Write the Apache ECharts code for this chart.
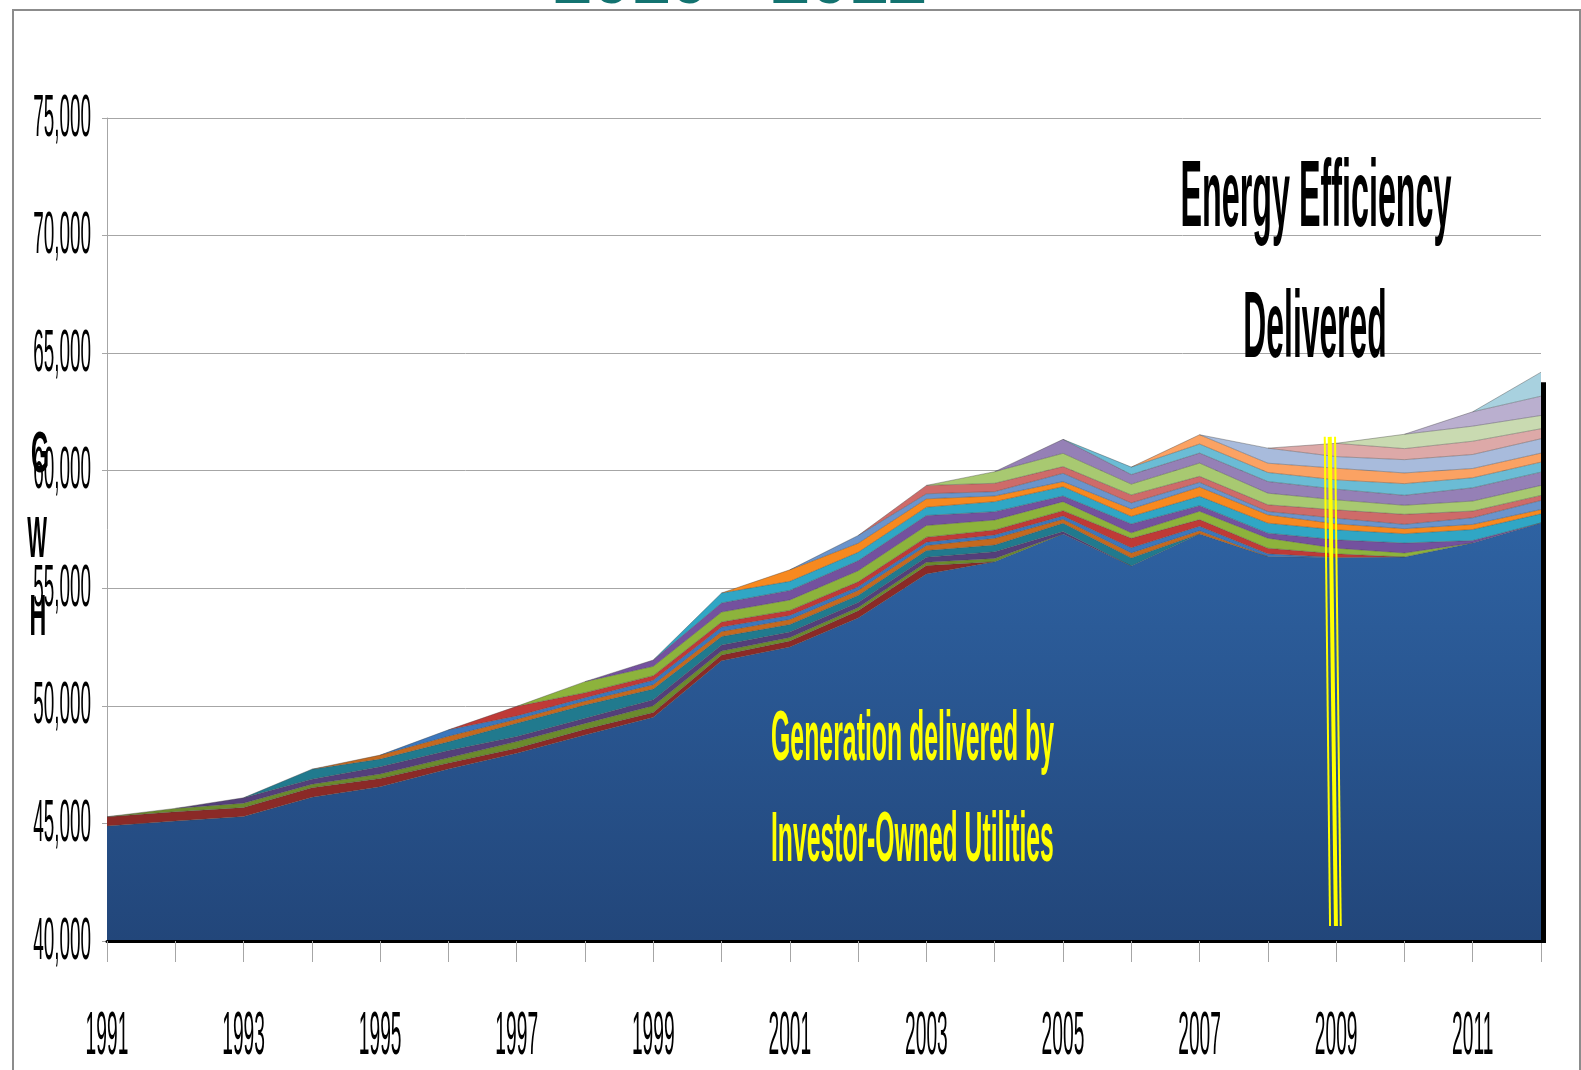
<!DOCTYPE html>
<html>
<head>
<meta charset="utf-8">
<script src="https://cdn.jsdelivr.net/npm/echarts@6/dist/echarts.min.js"></script>
<style>
  html, body { margin: 0; padding: 0; background: #ffffff; }
  #chart { width: 1581px; height: 1070px; }
</style>
</head>
<body>
<div id="chart"></div>
<script>
// Years on the category axis
const years = ['1991','1992','1993','1994','1995','1996','1997','1998','1999','2000','2001',
               '2002','2003','2004','2005','2006','2007','2008','2009','2010','2011','2012'];

// Axis tick labels
const yTicks = [40000, 45000, 50000, 55000, 60000, 65000, 70000, 75000];
const xLabelYears = ['1991','1993','1995','1997','1999','2001','2003','2005','2007','2009','2011'];

// Generation delivered by investor-owned utilities (GWh)
const generation = [44890, 45100, 45290, 46110, 46560, 47320, 47980, 48760, 49520, 51920, 52500,
                    53740, 55610, 56130, 57310, 55950, 57310, 56350, 56310, 56330, 56930, 57780];

// Energy efficiency savings (GWh) by program year, listed from the program's first year on
const ee1991 = [395, 395, 385, 410, 355, 255, 215, 240, 200, 240, 255, 300, 355];
const ee1992 = [145, 185, 145, 185, 215, 285, 255, 285, 170, 150, 140, 140, 140];
const ee1993 = [230, 215, 310, 310, 215, 215, 255, 255, 235, 215, 215, 285, 100];
const ee1994 = [425, 325, 370, 565, 565, 455, 360, 320, 300, 285, 285, 355, 340];
const ee1995 = [170, 240, 170, 170, 185, 215, 215, 215, 215, 285, 170, 215, 140];
const ee1996 = [270, 140, 140, 185, 190, 170, 150, 140, 140, 140, 215, 185, 115];
const ee1997 = [410, 215, 200, 215, 215, 215, 215, 215, 225, 405, 285, 240, 155];
const ee1998 = [470, 395, 425, 445, 470, 495, 425, 385, 235, 355, 425, 240, 170];
const ee1999 = [270, 385, 405, 425, 425, 355, 240, 375, 240, 215, 355, 425, 100];
const ee2000 = [425, 385, 360, 355, 425, 395, 320, 395, 425, 425, 395, 470, 385];
const ee2001 = [490, 385, 355, 240, 215, 320, 395, 355, 255, 215, 215, 185];
const ee2002 = [330, 215, 185, 355, 255, 200, 140, 240, 185, 285, 385];
const ee2003 = [355, 355, 285, 340, 255, 285, 355, 425, 285, 215];
const ee2004 = [495, 565, 460, 565, 495, 425, 385, 425, 425];
const ee2005 = [595, 405, 425, 495, 455, 425, 565, 565];
const ee2006 = [320, 385, 385, 395, 495, 425, 425];
const ee2007 = [395, 395, 495, 455, 395, 385];
const ee2008 = [640, 495, 565, 595, 610];
const ee2009 = [565, 470, 565, 425];
const ee2010 = [610, 640, 565];
const ee2011 = [610, 820];
const ee2012 = [1020];

const programs = [
  ['1991', ee1991, '#8b2a27'], ['1992', ee1992, '#6b8b2d'], ['1993', ee1993, '#543f7a'],
  ['1994', ee1994, '#217a8e'], ['1995', ee1995, '#c4691f'], ['1996', ee1996, '#3b77bd'],
  ['1997', ee1997, '#bf3a37'], ['1998', ee1998, '#8db33c'], ['1999', ee1999, '#74519e'],
  ['2000', ee2000, '#30a6c5'], ['2001', ee2001, '#f7891f'], ['2002', ee2002, '#6a94cc'],
  ['2003', ee2003, '#ce6b69'], ['2004', ee2004, '#a8c971'], ['2005', ee2005, '#9580b6'],
  ['2006', ee2006, '#6bbcd5'], ['2007', ee2007, '#fba263'], ['2008', ee2008, '#a8bbdc'],
  ['2009', ee2009, '#dda9a8'], ['2010', ee2010, '#c9dab1'], ['2011', ee2011, '#baafcf'],
  ['2012', ee2012, '#a8d1df']
];

// Spread a program's values over the full year range: empty before it starts,
// a zero the year before (so the layer ramps in) and a zero after it ends.
function padProgram(startYear, values) {
  const start = years.indexOf(startYear);
  return years.map((y, i) => {
    if (i === start - 1) return 0;
    if (i >= start && i < start + values.length) return values[i - start];
    if (i === start + values.length) return 0;
    return '-';
  });
}

const edge = { width: 0.7, color: 'rgba(60,60,60,0.55)' };

const series = [{
  name: 'Generation delivered by Investor-Owned Utilities',
  type: 'line',
  stack: 'total',
  data: generation,
  symbol: 'none',
  lineStyle: edge,
  areaStyle: {
    opacity: 1,
    color: new echarts.graphic.LinearGradient(0, 0, 0, 1, [
      { offset: 0, color: '#2e62a2' },
      { offset: 1, color: '#22467a' }
    ])
  },
  emphasis: { disabled: true },
  z: 2
}];

programs.forEach(([yr, vals, color]) => {
  series.push({
    name: 'EE ' + yr,
    type: 'line',
    stack: 'total',
    data: padProgram(yr, vals),
    symbol: 'none',
    lineStyle: edge,
    areaStyle: { opacity: 1, color: color },
    emphasis: { disabled: true },
    z: 2
  });
});

const gridLeft = 107, gridRight = 40, gridTop = 118, gridBottom = 129;

const chart = echarts.init(document.getElementById('chart'), null, { renderer: 'canvas' });
chart.setOption({
  animation: false,
  backgroundColor: '#ffffff',
  grid: { left: gridLeft, right: gridRight, top: gridTop, bottom: gridBottom },
  xAxis: {
    type: 'category',
    data: years,
    boundaryGap: false,
    z: 5,
    axisLine: { show: true, lineStyle: { color: '#000000', width: 3 } },
    axisTick: { show: true, interval: 0, length: 21, lineStyle: { color: '#a6a6a6', width: 1 } },
    axisLabel: { show: false },
    splitLine: { show: false }
  },
  yAxis: {
    type: 'value',
    min: 40000,
    max: 75000,
    interval: 5000,
    axisLine: { show: true, lineStyle: { color: '#a6a6a6', width: 1 } },
    axisTick: { show: true, length: 5, lineStyle: { color: '#a6a6a6', width: 1 } },
    axisLabel: { show: false },
    splitLine: { show: true, lineStyle: { color: '#a6a6a6', width: 1 } }
  },
  series: series
});

// Condensed text drawn as scaled graphic text
function label(text, x, y, size, scaleX, opts) {
  opts = opts || {};
  const align = opts.align || 'center';
  return {
    type: 'text', x: x, y: y, scaleX: scaleX, z: 100, silent: true,
    style: {
      text: text,
      font: (opts.weight || 'normal') + ' ' + size + 'px "Liberation Sans", Arial, sans-serif',
      fill: opts.color || '#000000',
      align: align, textAlign: align,
      verticalAlign: 'middle', textVerticalAlign: 'middle'
    }
  };
}

const g = [];

// Outer frame
g.push({ type: 'rect', z: 90, silent: true,
  shape: { x: 13, y: 10, width: 1567, height: 1080 },
  style: { fill: 'none', stroke: '#8c8c8c', lineWidth: 2 } });

// Title line (partly above the page edge)
g.push(label('2010 - 2012', 740, -16, 70, 1, { weight: 'bold', color: '#137370' }));

// Y tick labels
yTicks.forEach(v => {
  const py = chart.convertToPixel({ yAxisIndex: 0 }, v);
  g.push(label(v.toLocaleString('en-US'), gridLeft - 16, py + 1, 60, 0.315, { align: 'right' }));
});

// X tick labels
xLabelYears.forEach(yr => {
  const px = chart.convertToPixel({ xAxisIndex: 0 }, yr);
  g.push(label(yr, px, 1037, 62, 0.31));
});

// Axis unit, stacked letters
g.push(label('G', 40, 456, 58, 0.40, { weight: 'bold' }));
g.push(label('W', 37, 541, 58, 0.36, { weight: 'bold' }));
g.push(label('H', 38, 619, 58, 0.40, { weight: 'bold' }));

// Annotations
g.push(label('Energy Efficiency', 1316, 200, 95, 0.34, { weight: 'bold' }));
g.push(label('Delivered', 1315, 331, 95, 0.335, { weight: 'bold' }));
g.push(label('Generation delivered by', 771, 740, 71, 0.35, { weight: 'bold', color: '#ffff00', align: 'left' }));
g.push(label('Investor-Owned Utilities', 771, 841, 71, 0.348, { weight: 'bold', color: '#ffff00', align: 'left' }));

// Dark edge along the right side of the stacked areas
const lastIdx = years.length - 1;
let topLast = generation[lastIdx];
programs.forEach(([yr, vals]) => {
  const v = padProgram(yr, vals)[lastIdx];
  if (typeof v === 'number') topLast += v;
});
const xLast = chart.convertToPixel({ xAxisIndex: 0 }, years[lastIdx]);
const yTopLast = chart.convertToPixel({ yAxisIndex: 0 }, topLast);
const yBase = chart.convertToPixel({ yAxisIndex: 0 }, 40000);
g.push({ type: 'rect', z: 95, silent: true,
  shape: { x: xLast, y: yTopLast + 10, width: 5, height: yBase + 2 - (yTopLast + 10) },
  style: { fill: '#000000' } });

// Yellow marker lines at 2009
const markerTop = 61440, markerBottom = 40640;
const x2009 = chart.convertToPixel({ xAxisIndex: 0 }, '2009');
const yT = chart.convertToPixel({ yAxisIndex: 0 }, markerTop);
const yB = chart.convertToPixel({ yAxisIndex: 0 }, markerBottom);
[[-11.4, -6.1, 2], [-6.4, -0.2, 4], [-1.1, 4.6, 2]].forEach(([dt, db, w]) => {
  g.push({ type: 'line', z: 96, silent: true,
    shape: { x1: x2009 + dt, y1: yT, x2: x2009 + db, y2: yB },
    style: { stroke: '#ffff00', lineWidth: w } });
});

chart.setOption({ graphic: { elements: g } });
</script>
</body>
</html>
